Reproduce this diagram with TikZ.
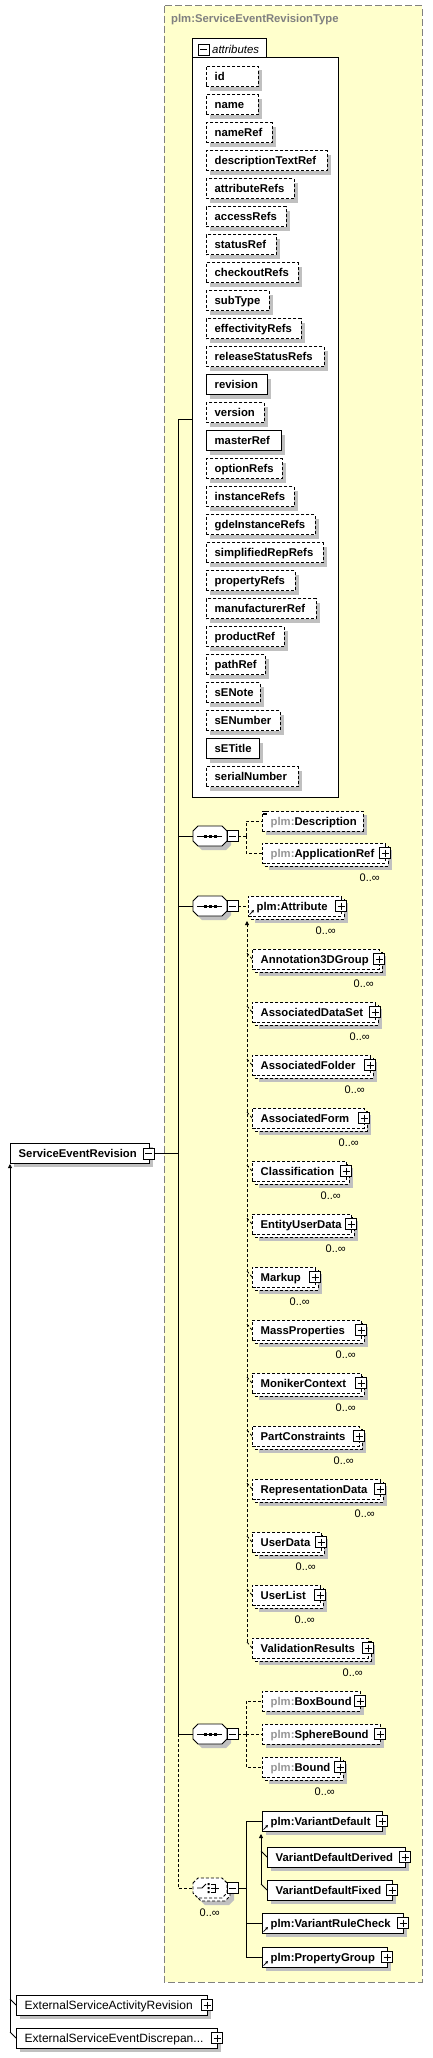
\documentclass[tikz,border=0pt]{standalone}
\usepackage{fontspec}
\setmainfont{Liberation Sans}
\usetikzlibrary{arrows.meta}
\definecolor{ybg}{RGB}{255,255,204}
\definecolor{shd}{RGB}{192,192,192}
\definecolor{pgray}{RGB}{150,150,150}
\definecolor{tgray}{RGB}{128,128,128}
\newcommand{\fB}{\bfseries\fontsize{11.3}{13}\selectfont}
\newcommand{\fR}{\fontsize{12}{14}\selectfont}
\newcommand{\fM}{\fontsize{11}{13}\selectfont}
\newcommand{\fI}{\itshape\fontsize{11.4}{13}\selectfont}
\newcommand{\pl}{{\color{pgray}plm:}}
\tikzset{
  ln/.style={line width=0.8pt},
  dsh/.style={dash pattern=on 3pt off 2pt},
  ebox/.style={draw, fill=white, line width=0.8pt, inner sep=0pt, minimum height=20pt},
  etext/.style={inner sep=0pt, font=\fB, anchor=base west},
  rtext/.style={inner sep=0pt, font=\fR, anchor=base west},
  mult/.style={inner sep=0pt, font=\fM, anchor=base east},
  pmbox/.style={draw, fill=white, line width=0.8pt, inner sep=0pt, minimum size=11pt},
  inv/.style={inner sep=0pt, minimum width=34pt, minimum height=20pt},
  uptip/.style={-{Triangle[length=4pt,width=4pt]}},
}
\newcommand{\PM}[4]{%
  \node[pmbox] (#1) at (#2,#3) {};
  \draw[line width=0.9pt] (#2-3.5,#3) -- (#2+3.5,#3);
  \if#4+\draw[line width=0.9pt] (#2,#3-3.5) -- (#2,#3+3.5);\fi
}
\newcommand{\Single}[7]{%
  \pgfmathsetmacro{\bw}{#4-#2}%
  \fill[shd] (#2+4,#3-6) rectangle (#4+4,#3+14);
  \node[ebox,#5,minimum width=\bw pt,anchor=west] (#1) at (#2,#3) {};
  \node[#7] (#1-t) at (#2+8.5,#3+4) {#6};
}
\newcommand{\Stacked}[6]{%
  \pgfmathsetmacro{\bw}{#4-#2}%
  \fill[shd] (#2+7,#3-3) rectangle (#4+7,#3+17);
  \draw[fill=white,line width=0.8pt,#5] (#2+3,#3-7) rectangle (#4+3,#3+13);
  \node[ebox,#5,minimum width=\bw pt,anchor=west] (#1) at (#2,#3) {};
  \node[etext] (#1-t) at (#2+8.5,#3+4) {#6};
  \node[mult] (#1-m) at (#4-5,#3+28) {0..∞};
  \PM{#1-p}{#4}{#3}{+}
}
\newcommand{\RefArrow}[2]{\draw[line width=0.7pt,-{Triangle[length=2.5pt,width=2.5pt]}] (#1+1.5,#2+8.5) -- (#1+6,#2+4);}
\newcommand{\Octa}[5]{%
  \ifnum#5=1
    \fill[shd,shift={(#2+7,#3+7)}] (-17,-5)--(-12,-10)--(12,-10)--(17,-5)--(17,5)--(12,10)--(-12,10)--(-17,5)--cycle;
    \draw[fill=white,line width=0.8pt,#4,shift={(#2+3,#3+3)}] (-17,-5)--(-12,-10)--(12,-10)--(17,-5)--(17,5)--(12,10)--(-12,10)--(-17,5)--cycle;
  \else
    \fill[shd,shift={(#2+4,#3+4)}] (-17,-5)--(-12,-10)--(12,-10)--(17,-5)--(17,5)--(12,10)--(-12,10)--(-17,5)--cycle;
  \fi
  \draw[fill=white,line width=0.8pt,#4,shift={(#2,#3)}] (-17,-5)--(-12,-10)--(12,-10)--(17,-5)--(17,5)--(12,10)--(-12,10)--(-17,5)--cycle;
  \node[inv] (#1) at (#2,#3) {};
}
\newcommand{\SeqIcon}[1]{%
  \draw[line width=0.9pt] (197,#1) -- (222,#1);
  \fill (204,#1-1.5) rectangle (207,#1+1.5);
  \fill (209,#1-1.5) rectangle (212,#1+1.5);
  \fill (214,#1-1.5) rectangle (217,#1+1.5);
}
\begin{document}
\begin{tikzpicture}[x=1pt,y=-1pt]
\useasboundingbox (0,0) rectangle (433,2058);
\fill[white] (0,0) rectangle (433,2058);
% complex type frame
\draw[tgray, line width=1pt, dash pattern=on 7pt off 3pt, fill=ybg] (164,6) rectangle (422,1982);
\node[anchor=base west, inner sep=0pt, font=\fB, text=tgray] (title) at (171,23) {plm:ServiceEventRevisionType};
% attributes
\node[draw, fill=white, line width=0.8pt, inner sep=0pt, minimum width=146pt, minimum height=740pt, anchor=north west] (attrs) at (192,57) {};
\fill[white] (192.5,38.5) rectangle (265.5,57.5);
\draw[line width=0.8pt] (192,57) -- (192,38) -- (266,38) -- (266,57);
\PM{attrs-p}{203.5}{49.5}{-}
\node[inner sep=0pt, font=\fI, anchor=base west] (attrs-t) at (212,53.5) {attributes};
\foreach \t/\r/\s [count=\i from 0] in {id/258/dsh, name/258/dsh, nameRef/272/dsh, descriptionTextRef/327/dsh, attributeRefs/294/dsh, accessRefs/286/dsh, statusRef/276/dsh, checkoutRefs/298/dsh, subType/269/dsh, effectivityRefs/301/dsh, releaseStatusRefs/324/dsh, revision/267/solid, version/264/dsh, masterRef/281/solid, optionRefs/282/dsh, instanceRefs/294/dsh, gdeInstanceRefs/315/dsh, simplifiedRepRefs/323/dsh, propertyRefs/295/dsh, manufacturerRef/316/dsh, productRef/284/dsh, pathRef/265/dsh, sENote/260/dsh, sENumber/280/dsh, sETitle/259/solid, serialNumber/298/dsh}{
  \pgfmathsetmacro{\yc}{76.5+28*\i}
  \Single{a\i}{206}{\yc}{\r}{\s}{\t}{etext}
}
% root element
\Single{root}{10}{1153}{148.5}{solid}{ServiceEventRevision}{etext}
\PM{root-p}{148.5}{1153.5}{-}
% sequence 1
\Octa{seq1}{210}{836}{solid}{0}
\SeqIcon{836}
\PM{seq1-p}{232.5}{836}{-}
\Single{desc}{262}{821}{363}{dsh}{\pl Description}{etext}
\draw[line width=0.6pt] (263,811.3) -- (267,811.3) (263,812.9) -- (267,812.9) (263,814.5) -- (267,814.5);
\Stacked{appref}{262}{853}{385}{dsh}{\pl ApplicationRef}
\coordinate (j1) at (246,836);
\draw[ln,dsh] (seq1-p.east) -- (j1);
\draw[ln,dsh] (j1) |- (desc.west);
\draw[ln,dsh] (j1) |- (appref.west);
% sequence 2
\Octa{seq2}{210}{906}{solid}{0}
\SeqIcon{906}
\PM{seq2-p}{232.5}{906}{-}
\Stacked{attr}{248}{906}{341}{dsh}{plm:Attribute}
\RefArrow{248}{906}
\draw[ln,dsh] (seq2-p.east) -- (attr.west);
\coordinate (sgtop) at (247,921);
\coordinate (sgbot) at (247,1642);
\foreach \t/\r [count=\j from 0] in {Annotation3DGroup/379, AssociatedDataSet/375, AssociatedFolder/370, AssociatedForm/364, Classification/346, EntityUserData/351, Markup/315, MassProperties/361, MonikerContext/361, PartConstraints/359, RepresentationData/380, UserData/321, UserList/320, ValidationResults/368}{
  \pgfmathsetmacro{\yc}{959+53*\j}
  \Stacked{m\j}{252}{\yc}{\r}{dsh}{\t}
  \coordinate (mk\j) at (247,\yc-6);
  \draw[ln,dsh] (mk\j) -- (m\j.west);
}
\draw[ln,dsh,uptip] (sgbot) -- (sgtop);
% sequence 3
\Octa{seq3}{210}{1734}{solid}{0}
\SeqIcon{1734}
\PM{seq3-p}{232.5}{1734}{-}
\Single{boxb}{262}{1701}{360}{dsh}{\pl BoxBound}{etext}
\PM{boxb-p}{360}{1701}{+}
\Single{sphb}{262}{1734}{380}{dsh}{\pl SphereBound}{etext}
\PM{sphb-p}{380}{1734}{+}
\Stacked{bnd}{262}{1767}{340}{dsh}{\pl Bound}
\coordinate (j3) at (246,1734);
\draw[ln,dsh] (seq3-p.east) -- (j3);
\draw[ln,dsh] (j3) |- (boxb.west);
\draw[ln,dsh] (j3) |- (sphb.west);
\draw[ln,dsh] (j3) |- (bnd.west);
% choice
\Octa{choice}{210}{1888}{dsh}{1}
\draw[line width=0.9pt] (197,1888) -- (202,1888) -- (206,1884);
\fill (207.5,1883) rectangle (209.5,1885) (207.5,1887) rectangle (209.5,1889) (207.5,1891) rectangle (209.5,1893);
\draw[line width=0.9pt] (211,1884) -- (215,1884) -- (215,1892) -- (211,1892) (211,1888) -- (219,1888);
\PM{choice-p}{232.5}{1888}{-}
\node[mult] (choice-m) at (220,1916) {0..∞};
\Single{vd}{262}{1821}{382}{solid}{plm:VariantDefault}{etext}
\PM{vd-p}{382}{1821}{+}
\RefArrow{262}{1821}
\Single{vdd}{267}{1857}{405}{solid}{VariantDefaultDerived}{etext}
\PM{vdd-p}{405}{1857}{+}
\Single{vdf}{267}{1890}{392}{solid}{VariantDefaultFixed}{etext}
\PM{vdf-p}{392}{1890}{+}
\Single{vrc}{262}{1923}{403}{solid}{plm:VariantRuleCheck}{etext}
\PM{vrc-p}{403}{1923}{+}
\RefArrow{262}{1923}
\Single{pg}{262}{1957}{387}{solid}{plm:PropertyGroup}{etext}
\PM{pg-p}{387}{1957}{+}
\RefArrow{262}{1957}
\coordinate (jc) at (246,1888);
\draw[ln] (choice-p.east) -- (jc);
\draw[ln] (jc) |- (vd.west);
\draw[ln] (jc) |- (vrc.west);
\draw[ln] (jc) |- (pg.west);
\coordinate (vtop) at (261,1834);
\coordinate (vmid) at (261,1851);
\coordinate (vbot) at (261,1884);
\draw[ln,uptip] (vbot) -- (vtop);
\draw[ln] (vmid) -- (vdd.west);
\draw[ln] (vbot) -- (vdf.west);
% trunk
\coordinate (tr0) at (178,1153.5);
\coordinate (trA) at (178,419);
\coordinate (tr1) at (178,836);
\coordinate (tr2) at (178,906);
\coordinate (tr3) at (178,1734);
\coordinate (tr4) at (178,1888);
\draw[ln] (root-p.east) -- (tr0);
\draw[ln] (trA) -- (tr3);
\draw[ln] (trA) -- (attrs.west |- trA);
\draw[ln] (tr1) -- (seq1.west);
\draw[ln] (tr2) -- (seq2.west);
\draw[ln] (tr3) -- (seq3.west);
\draw[ln,dsh] (tr3) -- (tr4) -- (choice.west);
% derived elements
\Single{esar}{16}{2005}{207}{solid}{ExternalServiceActivityRevision}{rtext}
\PM{esar-p}{207}{2005}{+}
\Single{esed}{16}{2038}{217}{solid}{ExternalServiceEventDiscrepan...}{rtext}
\PM{esed-p}{217}{2038}{+}
\coordinate (rtop) at (10,1164);
\coordinate (rb1) at (10,1999);
\coordinate (rb2) at (10,2032);
\draw[ln,uptip] (rb2) -- (rtop);
\draw[ln] (rb1) -- (esar.west);
\draw[ln] (rb2) -- (esed.west);
\end{tikzpicture}
\end{document}
